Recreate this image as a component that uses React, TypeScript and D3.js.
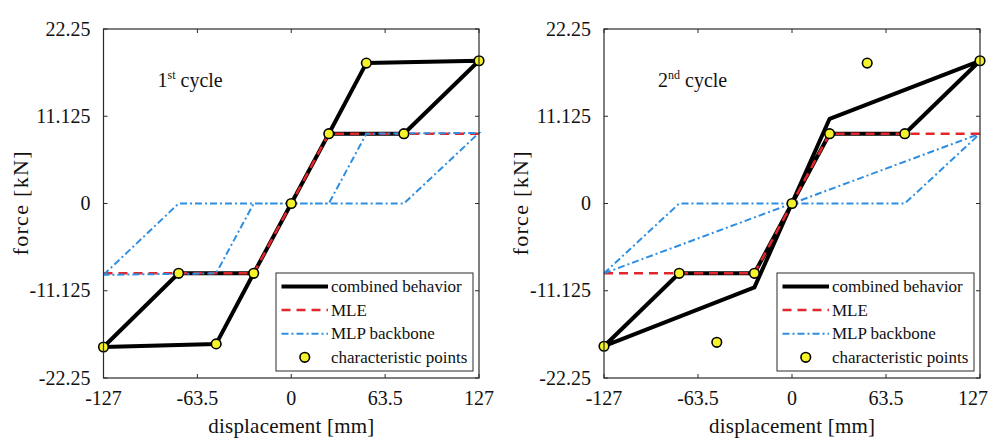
import React from "react";
import * as d3 from "d3";

// Axis ticks
const xTicks = [-127, -63.5, 0, 63.5, 127];
const xTickLabels = ["-127", "-63.5", "0", "63.5", "127"];
const yTicks = [-22.25, -11.125, 0, 11.125, 22.25];
const yTickLabels = ["-22.25", "-11.125", "0", "11.125", "22.25"];

// 1st cycle
const combined1X = [-127, -50.8, -25.4, 0, 25.4, 50.8, 127, 76.2, 25.4, 0, -25.4, -76.2, -127];
const combined1Y = [-18.3, -17.9, -8.9, 0, 8.9, 17.9, 18.2, 8.9, 8.9, 0, -8.9, -8.9, -18.3];
const mle1X = [-127, -25.4, 25.4, 127];
const mle1Y = [-8.9, -8.9, 8.9, 8.9];
const mlp1X = [-127, -76.2, 25.4, 50.8, 127, 76.2, -25.4, -50.8, -127];
const mlp1Y = [-9.1, 0, 0, 8.9, 9.0, 0, 0, -8.9, -9.1];
const points1X = [-127, -76.2, -50.8, -25.4, 0, 25.4, 50.8, 76.2, 127];
const points1Y = [-18.3, -8.9, -17.9, -8.9, 0, 8.9, 17.9, 8.9, 18.2];

// 2nd cycle
const combined2X = [-127, -25.4, 25.4, 127, 76.2, 25.4, 0, -25.4, -76.2, -127];
const combined2Y = [-18.2, -10.7, 10.8, 18.2, 8.9, 8.9, 0, -8.9, -8.9, -18.2];
const mle2X = [-127, -25.4, 25.4, 127];
const mle2Y = [-8.9, -8.9, 8.9, 8.9];
const mlp2X = [-127, 127, 76.2, -76.2, -127];
const mlp2Y = [-8.9, 8.9, 0, 0, -8.9];
const points2X = [-127, -76.2, -50.8, -25.4, 0, 25.4, 50.8, 76.2, 127];
const points2Y = [-18.2, -8.9, -17.7, -8.9, 0, 8.9, 17.9, 8.9, 18.2];

const legendLabels = ["combined behavior", "MLE", "MLP backbone", "characteristic points"];

const FONT = "Liberation Serif, Times New Roman, serif";
const RED = "#e3262b";
const BLUE = "#2e8ee0";
const YELLOW = "#f4f22a";
const FRAME = "#2a2a2a";
const TEXT = "#111";

type PanelProps = {
  left: number;
  right: number;
  cycleNum: string;
  cycleSup: string;
  combinedX: number[];
  combinedY: number[];
  mleX: number[];
  mleY: number[];
  mlpX: number[];
  mlpY: number[];
  pointsX: number[];
  pointsY: number[];
};

function Panel(p: PanelProps) {
  const top = 29;
  const bottom = 378;
  const x = d3.scaleLinear().domain([-127, 127]).range([p.left, p.right]);
  const y = d3.scaleLinear().domain([-22.25, 22.25]).range([bottom, top]);
  const line = d3
    .line<[number, number]>()
    .x((d) => x(d[0]))
    .y((d) => y(d[1]));
  const zip = (a: number[], b: number[]) => a.map((v, i) => [v, b[i]] as [number, number]);
  const tickLen = 4;

  const legX = p.right - 203;
  const legY = 273;
  const legW = 197;
  const legH = 98;
  const rowY = (i: number) => legY + 13.5 + i * 23.6;
  const sx0 = legX + 5.5;
  const sx1 = legX + 52;

  // keep the last tick label inside the 989px page
  const xLabelPos = (t: number) => Math.min(x(t), 989 - 16);

  return (
    <g style={{ fontFamily: FONT }}>
      {/* data lines */}
      <path d={line(zip(p.combinedX, p.combinedY)) || ""} fill="none" stroke="#000" strokeWidth={4} strokeLinejoin="round" />
      <path d={line(zip(p.mleX, p.mleY)) || ""} fill="none" stroke={RED} strokeWidth={2.5} strokeDasharray="9,6" />
      <path d={line(zip(p.mlpX, p.mlpY)) || ""} fill="none" stroke={BLUE} strokeWidth={2} strokeDasharray="7,3,2,3" />
      {p.pointsX.map((v, i) => (
        <circle key={i} cx={x(v)} cy={y(p.pointsY[i])} r={4.8} fill={YELLOW} stroke="#000" strokeWidth={1.6} />
      ))}

      {/* frame and ticks */}
      <rect x={p.left} y={top} width={p.right - p.left} height={bottom - top} fill="none" stroke={FRAME} strokeWidth={1.2} />
      {xTicks.map((t, i) => (
        <g key={"x" + i}>
          <line x1={x(t)} x2={x(t)} y1={bottom} y2={bottom - tickLen} stroke={FRAME} strokeWidth={1} />
          <line x1={x(t)} x2={x(t)} y1={top} y2={top + tickLen} stroke={FRAME} strokeWidth={1} />
          <text x={xLabelPos(t)} y={405} textAnchor="middle" fontSize={20} fill={TEXT}>
            {xTickLabels[i]}
          </text>
        </g>
      ))}
      {yTicks.map((t, i) => (
        <g key={"y" + i}>
          <line x1={p.left} x2={p.left + tickLen} y1={y(t)} y2={y(t)} stroke={FRAME} strokeWidth={1} />
          <line x1={p.right} x2={p.right - tickLen} y1={y(t)} y2={y(t)} stroke={FRAME} strokeWidth={1} />
          <text x={p.left - 13} y={y(t) + 6.5} textAnchor="end" fontSize={20} fill={TEXT}>
            {yTickLabels[i]}
          </text>
        </g>
      ))}

      {/* axis titles */}
      <text
        x={(p.left + p.right) / 2}
        y={433}
        textAnchor="middle"
        fontSize={21}
        fill={TEXT}
        textLength={166}
        lengthAdjust="spacing"
      >
        displacement [mm]
      </text>
      <text
        transform={`translate(${p.left - 76},${(top + bottom) / 2}) rotate(-90)`}
        textAnchor="middle"
        fontSize={22}
        fill={TEXT}
        textLength={104}
        lengthAdjust="spacing"
      >
        force [kN]
      </text>

      {/* cycle annotation */}
      <text x={p.left + 54} y={87} fontSize={20} fill={TEXT}>
        {p.cycleNum}
        <tspan dy={-8} fontSize={12}>
          {p.cycleSup}
        </tspan>
        <tspan dy={8}> cycle</tspan>
      </text>

      {/* legend */}
      <rect x={legX} y={legY} width={legW} height={legH} fill="#fff" stroke={FRAME} strokeWidth={1} />
      <line x1={sx0} x2={sx1} y1={rowY(0)} y2={rowY(0)} stroke="#000" strokeWidth={4} />
      <line x1={sx0} x2={sx1} y1={rowY(1)} y2={rowY(1)} stroke={RED} strokeWidth={2.5} strokeDasharray="9,6" />
      <line x1={sx0} x2={sx1} y1={rowY(2)} y2={rowY(2)} stroke={BLUE} strokeWidth={2} strokeDasharray="7,3,2,3" />
      <circle cx={(sx0 + sx1) / 2} cy={rowY(3)} r={4.8} fill={YELLOW} stroke="#000" strokeWidth={1.6} />
      {legendLabels.map((l, i) => (
        <text key={l} x={sx1 + 3} y={rowY(i) + 5.5} fontSize={17} fill={TEXT}>
          {l}
        </text>
      ))}
    </g>
  );
}

export default function App() {
  return (
    <svg
      width={989}
      height={442}
      viewBox="0 0 989 442"
      style={{ position: "absolute", left: 0, top: 0, background: "#fff" }}
    >
      <rect width={989} height={442} fill="#fff" />
      <Panel
        left={103.5}
        right={479}
        cycleNum="1"
        cycleSup="st"
        combinedX={combined1X}
        combinedY={combined1Y}
        mleX={mle1X}
        mleY={mle1Y}
        mlpX={mlp1X}
        mlpY={mlp1Y}
        pointsX={points1X}
        pointsY={points1Y}
      />
      <Panel
        left={604}
        right={980}
        cycleNum="2"
        cycleSup="nd"
        combinedX={combined2X}
        combinedY={combined2Y}
        mleX={mle2X}
        mleY={mle2Y}
        mlpX={mlp2X}
        mlpY={mlp2Y}
        pointsX={points2X}
        pointsY={points2Y}
      />
    </svg>
  );
}
